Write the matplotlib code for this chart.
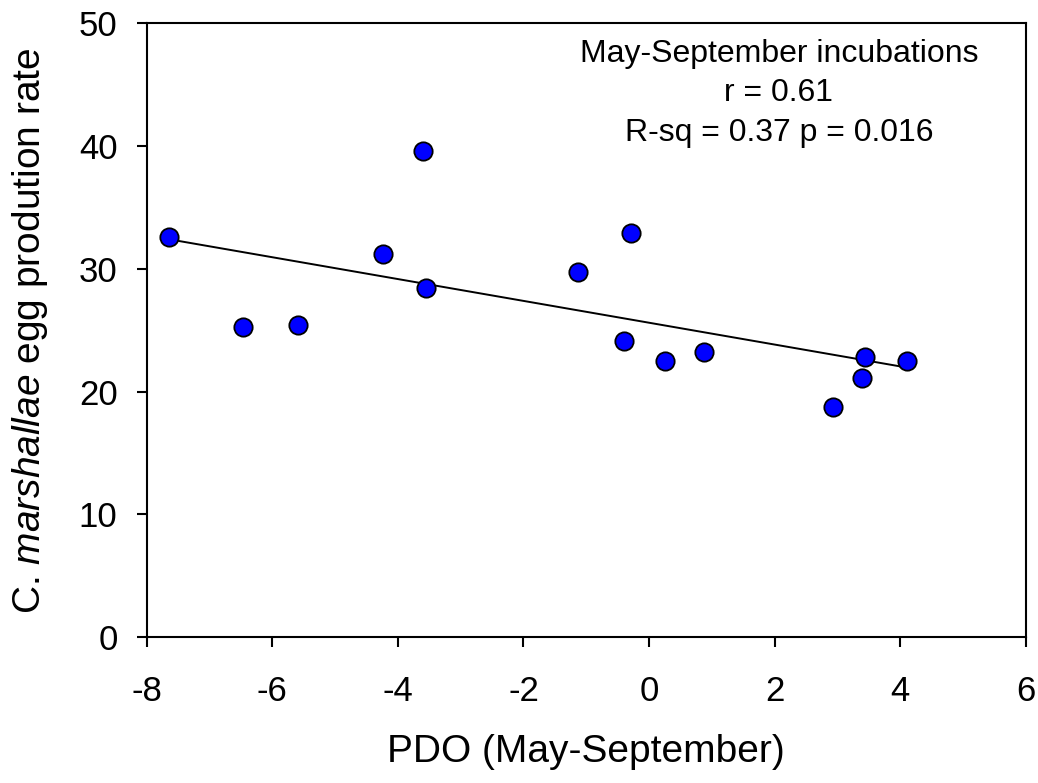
import numpy as np
import matplotlib
matplotlib.use("Agg")
import matplotlib.pyplot as plt

plt.rcParams['font.family'] = ['Liberation Sans', 'DejaVu Sans']
plt.rcParams['mathtext.fontset'] = 'custom'
plt.rcParams['mathtext.rm'] = 'Liberation Sans'
plt.rcParams['mathtext.it'] = 'Liberation Sans:italic'
plt.rcParams['axes.unicode_minus'] = False

pdo = [-7.645, -3.604, -4.240, -3.551, -6.468, -5.597, -0.290, -1.138,
       -0.395, 0.251, 0.878, 3.445, 4.113, 3.386, 2.931]
egg = [32.62, 39.60, 31.21, 28.42, 25.29, 25.41, 32.92, 29.75,
       24.10, 22.50, 23.21, 22.83, 22.52, 21.09, 18.73]
x_ticks = [-8, -6, -4, -2, 0, 2, 4, 6]
y_ticks = [0, 10, 20, 30, 40, 50]
annotation = "May-September incubations\nr = 0.61\nR-sq = 0.37 p = 0.016"

fig = plt.figure(figsize=(10.38, 7.83), dpi=100)
ax = fig.add_axes([0.1413, 0.1861, 0.8470, 0.7841])

slope, intercept = np.polyfit(pdo, egg, 1)
xl = np.array([min(pdo), max(pdo)])
ax.plot(xl, intercept + slope * xl, color='black', lw=1.4, zorder=2)
ax.plot(pdo, egg, 'o', ms=13.2, mfc='#0000FF', mec='black', mew=1.3,
        linestyle='none', zorder=3)

ax.set_xlim(-8, 6)
ax.set_ylim(0, 50)
ax.set_xticks(x_ticks)
ax.set_yticks(y_ticks)
ax.tick_params(direction='out', length=7, width=1.5, labelsize=25,
               top=False, right=False)
ax.tick_params(axis='x', pad=20)
ax.tick_params(axis='y', pad=14)
for s in ax.spines.values():
    s.set_linewidth(1.5)

ax.set_xlabel("PDO (May-September)", fontsize=28, labelpad=19)
ax.set_ylabel(r"C. $\it{marshallae}$ egg prodution rate", fontsize=28, labelpad=21)

ax.text(0.719, 0.975, annotation, transform=ax.transAxes, ha='center', va='top',
        fontsize=23, linespacing=1.42)

fig.savefig("out.png", dpi=100)
